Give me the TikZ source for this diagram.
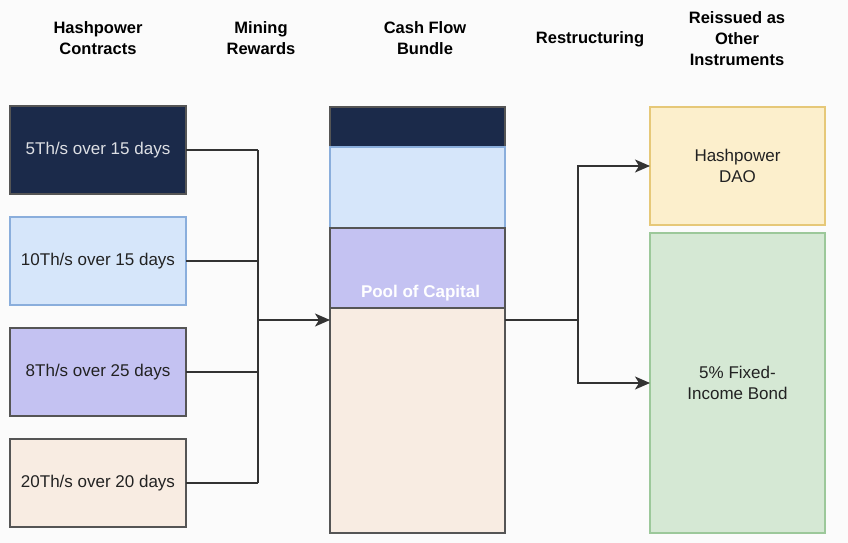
\documentclass[tikz,border=0pt]{standalone}
\usepackage{fontspec}
\setmainfont{Liberation Sans}
\usepackage{tikz}
\usetikzlibrary{calc,arrows.meta}

\definecolor{bgwhite}{HTML}{FBFBFB}
\definecolor{navy}{HTML}{1B2A4A}
\definecolor{skyfill}{HTML}{D6E6FA}
\definecolor{skyline}{HTML}{8AAEDC}
\definecolor{lavfill}{HTML}{C4C2F2}
\definecolor{peachfill}{HTML}{F8ECE2}
\definecolor{goldfill}{HTML}{FCEFCC}
\definecolor{goldline}{HTML}{E6C878}
\definecolor{mintfill}{HTML}{D5E8D4}
\definecolor{mintline}{HTML}{9CC89A}
\definecolor{boxline}{HTML}{555555}
\definecolor{wireline}{HTML}{333333}
\definecolor{inktext}{HTML}{222222}

\begin{document}
\begin{tikzpicture}[x=1pt,y=-1pt,inner sep=0pt,outer sep=0pt,
    every node/.style={font=\fontsize{17}{21}\selectfont, align=center, text=inktext},
    head/.style={font=\bfseries\fontsize{16.5}{21}\selectfont, text=black},
    block/.style={anchor=north west, line width=1.2pt, minimum width=176pt},
    wire/.style={draw=wireline, line width=1.4pt},
    arrow/.style={wire, -{Stealth[length=15pt,width=13pt,inset=4pt]}}]

    % canvas
    \fill[bgwhite] (0,0) rectangle (848,543);
    \useasboundingbox (0,0) rectangle (848,543);

    % column headers
    \node[head] (head_contracts) at (98, 38) {Hashpower\\Contracts};
    \node[head] (head_rewards) at (261, 38) {Mining\\Rewards};
    \node[head] (head_bundle) at (425, 38) {Cash Flow\\Bundle};
    \node[head] (head_restruct) at (590, 39) {Restructuring};
    \node[head] (head_reissue) at (737, 39) {Reissued as\\Other\\Instruments};

    % hashpower contracts
    \node[block, draw=boxline, fill=navy, minimum height=88pt, text=white!85!navy]
        (c1) at (10, 106) {5Th/s over 15 days};
    \node[block, draw=skyline, fill=skyfill, minimum height=88pt]
        (c2) at (10, 217) {10Th/s over 15 days};
    \node[block, draw=boxline, fill=lavfill, minimum height=88pt]
        (c3) at (10, 328) {8Th/s over 25 days};
    \node[block, draw=boxline, fill=peachfill, minimum height=88pt]
        (c4) at (10, 439) {20Th/s over 20 days};

    % cash flow bundle
    \node[block, draw=boxline, fill=navy, minimum width=175pt, minimum height=40pt]
        (b1) at (330, 107) {};
    \node[block, draw=skyline, fill=skyfill, minimum width=175pt, minimum height=81pt]
        (b2) at (330, 147) {};
    \node[block, draw=boxline, fill=lavfill, minimum width=175pt, minimum height=80pt]
        (b3) at (330, 228) {};
    \node[block, draw=boxline, fill=peachfill, minimum width=175pt, minimum height=225pt]
        (b4) at (330, 308) {};
    \node[font=\bfseries\fontsize{17}{21}\selectfont, text=white] (pool)
        at ($(b3.south) + (3, -15)$) {Pool of Capital};

    % reissued instruments
    \node[block, draw=goldline, fill=goldfill, minimum width=175pt, minimum height=118pt]
        (dao) at (650, 107) {Hashpower\\DAO};
    \node[block, draw=mintline, fill=mintfill, minimum width=175pt, minimum height=300pt]
        (bond) at (650, 233) {5\% Fixed-\\Income Bond};

    % mining rewards
    \coordinate (merge) at (258, 320);
    \foreach \k in {1,...,4}
        \draw[wire] (c\k.east) -- (c\k.east -| merge);
    \draw[wire] (c1.east -| merge) -- (c4.east -| merge);
    \draw[arrow] (merge) -- (merge -| b4.west);

    % restructuring
    \coordinate (split) at (578, 320);
    \draw[wire] (split -| b4.east) -- (split);
    \draw[wire] (dao.west -| split) -- (bond.west -| split);
    \draw[arrow] (split) |- (dao.west);
    \draw[arrow] (split) |- (bond.west);

\end{tikzpicture}
\end{document}
